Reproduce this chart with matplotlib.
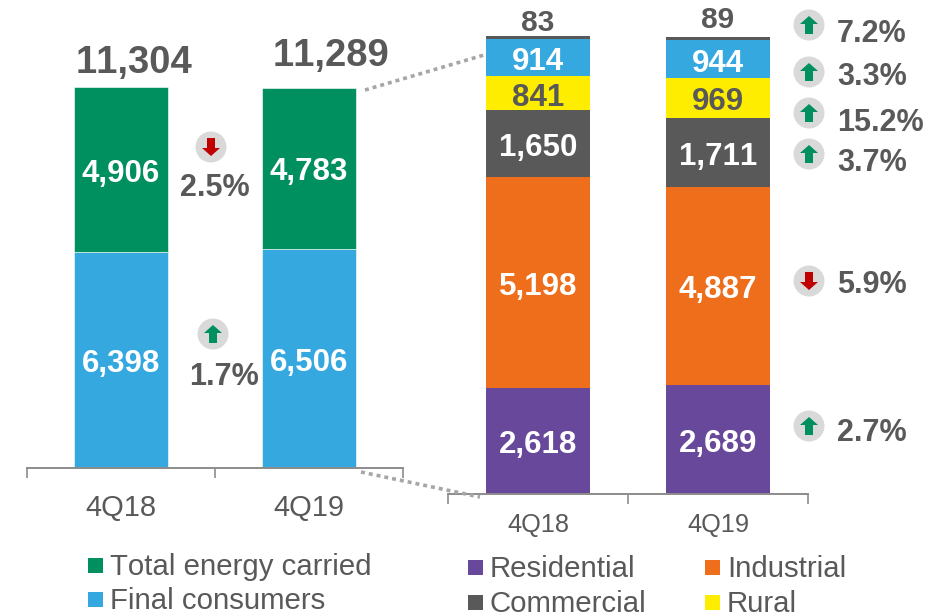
import matplotlib
matplotlib.use('Agg')
import matplotlib.pyplot as plt
from matplotlib.patches import Circle, Polygon, Rectangle

plt.rcParams['font.family'] = ['Liberation Sans', 'DejaVu Sans']
plt.rcParams['text.kerning_factor'] = 6

W, H = 948, 614
GRAY = '#595959'
GREEN = '#008F5F'
BLUE = '#35A8E0'
PURPLE = '#68489A'
ORANGE = '#EF6E1C'
YELLOW = '#FFED00'
RED = '#C00000'

quarters = ['4Q18', '4Q19']

# left chart
final_consumers = [6398, 6506]
energy_carried = [4906, 4783]
totals = ['11,304', '11,289']

# right chart
residential = [2618, 2689]
industrial = [5198, 4887]
commercial = [1650, 1711]
rural = [841, 969]
other_blue = [914, 944]
other_gray = [83, 89]

# variations: text, direction
left_changes = ['2.5%', '1.7%']
left_dirs = ['down', 'up']
right_changes = ['7.2%', '3.3%', '15.2%', '3.7%', '5.9%', '2.7%']
right_dirs = ['up', 'up', 'up', 'up', 'down', 'up']


def make_axes(fig, x0, x1, base, ymax):
    ax = fig.add_axes([x0 / W, (H - base) / H, (x1 - x0) / W, base / H])
    ax.set_xlim(-0.5, 1.5)
    ax.set_ylim(0, ymax)
    ax.patch.set_alpha(0)
    for s in ['top', 'left', 'right']:
        ax.spines[s].set_visible(False)
    ax.spines['bottom'].set_color('#8C8C8C')
    ax.spines['bottom'].set_linewidth(1.4)
    ax.set_yticks([])
    ax.set_xticks([-0.5, 0.5, 1.5])
    ax.set_xticklabels([])
    ax.tick_params(axis='x', which='major', length=7, width=1.2, color='#8C8C8C')
    ax.set_xticks([0, 1], minor=True)
    ax.set_xticklabels(quarters, minor=True)
    ax.tick_params(axis='x', which='minor', length=0, labelcolor=GRAY)
    return ax


def stack(ax, series, colors, width, fs, edge, skip=()):
    bottom = [0, 0]
    for i, (vals, col) in enumerate(zip(series, colors)):
        ax.bar([0, 1], vals, width, bottom=bottom, color=col, edgecolor='white', linewidth=edge, clip_on=False)
        if i not in skip:
            for k in range(2):
                tc = GRAY if col == YELLOW else 'white'
                ax.annotate(f'{vals[k]:,}', (k, bottom[k] + vals[k] / 2), xytext=(0, -3),
                            textcoords='offset points', ha='center', va='center',
                            color=tc, fontsize=fs, fontweight='bold')
        bottom = [bottom[0] + vals[0], bottom[1] + vals[1]]
    return bottom


def arrow_icon(ov, cx, cy, direction):
    ov.add_patch(Circle((cx, cy), 15.5, color='#D9D9D9', lw=0))
    s = 1 if direction == 'up' else -1
    col = GREEN if direction == 'up' else RED
    pts = [(0, -9), (9, -1), (4, -1), (4, 9), (-4, 9), (-4, -1), (-9, -1)]
    ov.add_patch(Polygon([(cx + a, cy + s * b) for a, b in pts], closed=True, color=col, lw=0))


fig = plt.figure(figsize=(W / 100, H / 100), dpi=100)

ax1 = make_axes(fig, 27, 403, 468, 468 / 381 * 11304)
stack(ax1, [final_consumers, energy_carried], [BLUE, GREEN], 0.5, 22.5, 0.4)
ax1.tick_params(axis='x', which='minor', labelsize=21, pad=19)

ax2 = make_axes(fig, 448, 808, 494, 494 / 458 * 11304)
stack(ax2, [residential, industrial, commercial, rural, other_blue, other_gray],
      [PURPLE, ORANGE, GRAY, YELLOW, BLUE, GRAY], 0.578, 22.5, 0, skip=(5,))
ax2.tick_params(axis='x', which='minor', labelsize=18.3, pad=14)

# overlay in pixel coordinates for labels, icons and legends
ov = fig.add_axes([0, 0, 1, 1])
ov.set_xlim(0, W)
ov.set_ylim(H, 0)
ov.axis('off')
ov.patch.set_alpha(0)

ov.text(134, 63, totals[0], ha='center', va='center', color=GRAY, fontsize=27.5, fontweight='bold')
ov.text(331, 56, totals[1], ha='center', va='center', color=GRAY, fontsize=27.5, fontweight='bold')
ov.text(538, 23, f'{other_gray[0]}', ha='center', va='center', color=GRAY, fontsize=21.5, fontweight='bold')
ov.text(718, 20, f'{other_gray[1]}', ha='center', va='center', color=GRAY, fontsize=21.5, fontweight='bold')

# dotted zoom connectors
ov.plot([365, 484], [90, 55], color='#A6A6A6', lw=2.6, dashes=(1.1, 1.1))
ov.plot([361, 480], [472, 497], color='#A6A6A6', lw=2.6, dashes=(1.1, 1.1))

for (cx, cy), d in zip([(211, 147), (213, 334)], left_dirs):
    arrow_icon(ov, cx, cy, d)
for (x, y), t in zip([(215, 188), (224, 377)], left_changes):
    ov.text(x, y, t, ha='center', va='center', color=GRAY, fontsize=22, fontweight='bold')

right_y = [34, 77, 123, 163, 285, 433]
icon_y = [25, 72, 113, 154, 281, 426]
for y, iy, t, d in zip(right_y, icon_y, right_changes, right_dirs):
    arrow_icon(ov, 809, iy, d)
    ov.text(837, y, t, ha='left', va='center', color=GRAY, fontsize=22, fontweight='bold')

# legends
left_legend = [('Total energy carried', GREEN, 88, 567), ('Final consumers', BLUE, 88, 601)]
right_legend = [('Residential', PURPLE, 468, 569), ('Industrial', ORANGE, 705, 569),
                ('Commercial', GRAY, 468, 604), ('Rural', YELLOW, 705, 604)]
for t, c, x, y in left_legend + right_legend:
    ov.add_patch(Rectangle((x, y - 9), 15, 15, color=c, lw=0))
    ov.text(x + 22, y, t, ha='left', va='center', color=GRAY, fontsize=21.2)

fig.savefig('out.png', dpi=100)
